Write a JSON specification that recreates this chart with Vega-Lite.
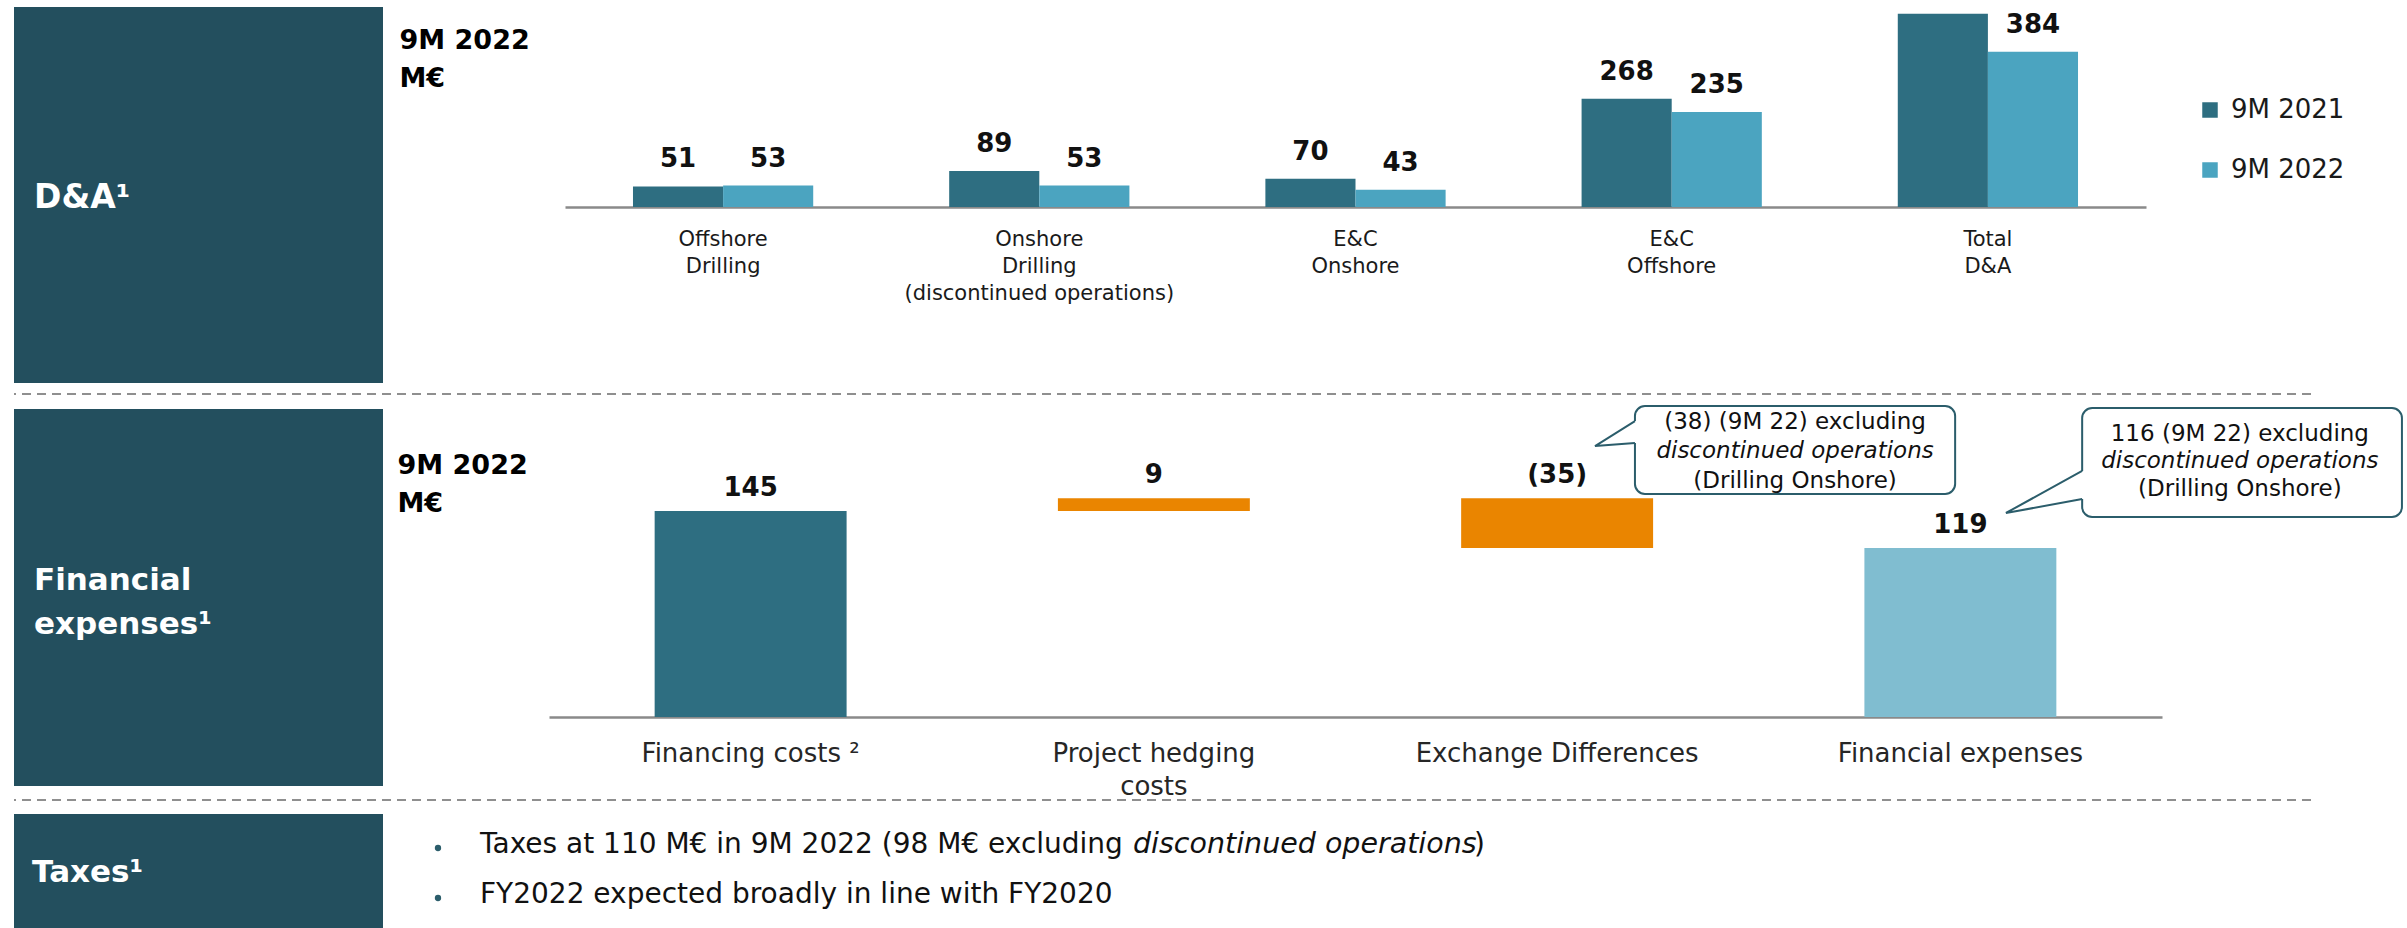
{
  "$schema": "https://vega.github.io/schema/vega-lite/v6.json",
  "padding": {"left": 13, "top": 7, "right": 0, "bottom": 0},
  "config": {"font": "DejaVu Sans", "view": {"stroke": null}},
  "spacing": -5,
  "resolve": {"scale": {"color": "independent"}, "legend": {"color": "independent"}},
  "vconcat": [
    {
      "spacing": 10,
      "resolve": {"scale": {"color": "independent"}, "legend": {"color": "independent"}},
      "vconcat": [
        {
          "spacing": 16,
          "hconcat": [
            {
              "width": 369, "height": 376,
              "view": {"fill": "#234f5e", "stroke": null},
              "data": {"values": [{"label": "D&A¹"}]},
              "mark": {"type": "text", "align": "left", "baseline": "middle", "dx": 20, "dy": 3, "color": "#ffffff", "fontSize": 33, "fontWeight": "bold"},
              "encoding": {
                "x": {"datum": 0, "type": "quantitative", "scale": {"domain": [0, 1]}, "axis": null},
                "text": {"field": "label"}
              }
            },
            {
              "width": 1581, "height": 200,
              "data": {"values": [
                {"category": "Offshore Drilling", "period": "9M 2021", "value": 51, "label": "51"},
                {"category": "Offshore Drilling", "period": "9M 2022", "value": 53, "label": "53"},
                {"category": "Onshore Drilling (discontinued operations)", "period": "9M 2021", "value": 89, "label": "89"},
                {"category": "Onshore Drilling (discontinued operations)", "period": "9M 2022", "value": 53, "label": "53"},
                {"category": "E&C Onshore", "period": "9M 2021", "value": 70, "label": "70"},
                {"category": "E&C Onshore", "period": "9M 2022", "value": 43, "label": "43"},
                {"category": "E&C Offshore", "period": "9M 2021", "value": 268, "label": "268"},
                {"category": "E&C Offshore", "period": "9M 2022", "value": 235, "label": "235"},
                {"category": "Total D&A", "period": "9M 2021", "value": 478, "label": ""},
                {"category": "Total D&A", "period": "9M 2022", "value": 384, "label": "384"}
              ]},
              "layer": [
                {
                  "mark": {"type": "bar"},
                  "encoding": {
                    "x": {"field": "category", "type": "nominal", "sort": null,
                      "scale": {"paddingInner": 0.43, "paddingOuter": 0.215},
                      "axis": {"title": null, "ticks": false, "labelAngle": 0, "domainColor": "#8a8a8a", "domainWidth": 2.5,
                        "labelFontSize": 21, "labelColor": "#1a1a1a", "labelPadding": 21, "labelLineHeight": 27, "labelLimit": 600,
                        "labelExpr": "datum.value == 'Onshore Drilling (discontinued operations)' ? ['Onshore', 'Drilling', '(discontinued operations)'] : split(datum.value, ' ')"}},
                    "xOffset": {"field": "period", "type": "nominal", "scale": {"paddingInner": 0, "paddingOuter": 0}},
                    "y": {"field": "value", "type": "quantitative", "scale": {"domain": [0, 495], "nice": false},
                      "axis": {"title": ["9M 2022", "M€"], "domain": false, "ticks": false, "labels": false, "grid": false,
                        "titleAngle": 0, "titleAlign": "left", "titleBaseline": "alphabetic", "titleX": -166, "titleY": 41,
                        "titleFontSize": 27, "titleFontWeight": "bold", "titleColor": "#000000", "titleLineHeight": 38}},
                    "color": {"field": "period", "type": "nominal",
                      "scale": {"domain": ["9M 2021", "9M 2022"], "range": ["#2e6e81", "#4ba4c0"]},
                      "legend": {"title": null, "orient": "none", "legendX": 2183, "legendY": 90, "symbolType": "square",
                        "symbolSize": 240, "symbolStrokeWidth": 0, "labelFontSize": 26, "labelColor": "#1a1a1a",
                        "labelOffset": 8, "rowPadding": 34}}
                  }
                },
                {
                  "transform": [{"filter": "datum.label != ''"}],
                  "mark": {"type": "text", "baseline": "alphabetic", "dy": -19, "fontSize": 26, "fontWeight": "bold", "color": "#111111"},
                  "encoding": {
                    "x": {"field": "category", "type": "nominal", "sort": null},
                    "xOffset": {"field": "period", "type": "nominal"},
                    "y": {"field": "value", "type": "quantitative"},
                    "text": {"field": "label"}
                  }
                }
              ]
            }
          ]
        },
        {
          "width": 2297, "height": 1,
          "data": {"values": [{"v": 0}]},
          "mark": {"type": "rule", "color": "#8f8f8f", "strokeWidth": 2, "strokeDash": [9, 6]},
          "encoding": {"y": {"field": "v", "type": "quantitative", "scale": {"domain": [0, 1]}, "axis": null}}
        },
        {
          "spacing": 14,
          "hconcat": [
            {
              "width": 369, "height": 377,
              "view": {"fill": "#234f5e", "stroke": null},
              "data": {"values": [{"label": "Financial\nexpenses¹"}]},
              "mark": {"type": "text", "align": "left", "baseline": "alphabetic", "dx": 20, "dy": -8, "color": "#ffffff", "fontSize": 31, "fontWeight": "bold", "lineBreak": "\n", "lineHeight": 44},
              "encoding": {
                "x": {"datum": 0, "type": "quantitative", "scale": {"domain": [0, 1]}, "axis": null},
                "text": {"field": "label"}
              }
            },
            {
              "width": 1613, "height": 308,
              "resolve": {"scale": {"x": "independent"}},
              "layer": [
                {
                  "data": {"values": [
                    {"category": "Financing costs ²", "low": 0, "high": 145, "kind": "start", "label": "145"},
                    {"category": "Project hedging costs", "low": 145, "high": 154, "kind": "delta", "label": "9"},
                    {"category": "Exchange Differences", "low": 119, "high": 154, "kind": "delta", "label": "(35)"},
                    {"category": "Financial expenses", "low": 0, "high": 119, "kind": "end", "label": "119"}
                  ]},
                  "layer": [
                    {
                      "mark": {"type": "bar"},
                      "encoding": {
                        "x": {"field": "category", "type": "nominal", "sort": null,
                          "scale": {"paddingInner": 0.524, "paddingOuter": 0.262},
                          "axis": {"title": null, "ticks": false, "labelAngle": 0, "domainColor": "#8a8a8a", "domainWidth": 2.5,
                            "labelFontSize": 26, "labelColor": "#262626", "labelPadding": 23, "labelLineHeight": 33, "labelLimit": 600,
                            "labelExpr": "datum.value == 'Project hedging costs' ? ['Project hedging', 'costs'] : datum.value"}},
                        "y": {"field": "low", "type": "quantitative", "scale": {"domain": [0, 216.8], "nice": false},
                          "axis": {"title": ["9M 2022", "M€"], "domain": false, "ticks": false, "labels": false, "grid": false,
                            "titleAngle": 0, "titleAlign": "left", "titleBaseline": "alphabetic", "titleX": -152, "titleY": 64,
                            "titleFontSize": 27, "titleFontWeight": "bold", "titleColor": "#000000", "titleLineHeight": 38}},
                        "y2": {"field": "high"},
                        "color": {"field": "kind", "type": "nominal",
                          "scale": {"domain": ["start", "delta", "end"], "range": ["#2e6e81", "#ea8500", "#80bdd0"]},
                          "legend": null}
                      }
                    },
                    {
                      "mark": {"type": "text", "baseline": "alphabetic", "dy": -15, "fontSize": 26, "fontWeight": "bold", "color": "#111111"},
                      "encoding": {
                        "x": {"field": "category", "type": "nominal", "sort": null},
                        "y": {"field": "high", "type": "quantitative"},
                        "text": {"field": "label"}
                      }
                    }
                  ]
                },
                {
                  "data": {"values": [
                    {"id": 1, "x1": 2.693, "x2": 3.487, "y1": 157.0, "y2": 218.9},
                    {"id": 2, "x1": 3.802, "x2": 4.595, "y1": 140.8, "y2": 217.5}
                  ]},
                  "mark": {"type": "rect", "fill": "#ffffff", "stroke": "#2b5d6b", "strokeWidth": 2, "cornerRadius": 10},
                  "encoding": {
                    "x": {"field": "x1", "type": "quantitative", "scale": {"domain": [0, 4], "nice": false, "zero": false}, "axis": null},
                    "x2": {"field": "x2"},
                    "y": {"field": "y1", "type": "quantitative"},
                    "y2": {"field": "y2"}
                  }
                },
                {
                  "data": {"values": [
                    {"id": 1, "x": 2.594, "lo": 190.7, "hi": 190.7},
                    {"id": 1, "x": 2.693, "lo": 192.9, "hi": 208.3},
                    {"id": 1, "x": 2.703, "lo": 192.9, "hi": 208.3},
                    {"id": 2, "x": 3.613, "lo": 143.6, "hi": 143.6},
                    {"id": 2, "x": 3.802, "lo": 153.4, "hi": 173.2},
                    {"id": 2, "x": 3.812, "lo": 153.4, "hi": 173.2}
                  ]},
                  "mark": {"type": "area", "fill": "#ffffff", "opacity": 1, "interpolate": "linear"},
                  "encoding": {
                    "x": {"field": "x", "type": "quantitative", "scale": {"domain": [0, 4], "nice": false, "zero": false}, "axis": null},
                    "y": {"field": "lo", "type": "quantitative"},
                    "y2": {"field": "hi"},
                    "detail": {"field": "id", "type": "nominal"}
                  }
                },
                {
                  "data": {"values": [
                    {"id": 1, "ord": 1, "x": 2.693, "y": 208.3},
                    {"id": 1, "ord": 2, "x": 2.594, "y": 190.7},
                    {"id": 1, "ord": 3, "x": 2.693, "y": 192.9},
                    {"id": 2, "ord": 1, "x": 3.802, "y": 173.2},
                    {"id": 2, "ord": 2, "x": 3.613, "y": 143.6},
                    {"id": 2, "ord": 3, "x": 3.802, "y": 153.4}
                  ]},
                  "mark": {"type": "line", "color": "#2b5d6b", "strokeWidth": 2},
                  "encoding": {
                    "x": {"field": "x", "type": "quantitative", "scale": {"domain": [0, 4], "nice": false, "zero": false}, "axis": null},
                    "y": {"field": "y", "type": "quantitative"},
                    "detail": {"field": "id", "type": "nominal"},
                    "order": {"field": "ord", "type": "quantitative"}
                  }
                },
                {
                  "data": {"values": [
                    {"id": 1, "x": 3.09, "y": 202.7, "text": "(38) (9M 22) excluding", "italic": false},
                    {"id": 1, "x": 3.09, "y": 182.3, "text": "discontinued operations", "italic": true},
                    {"id": 1, "x": 3.09, "y": 161.2, "text": "(Drilling Onshore)", "italic": false},
                    {"id": 2, "x": 4.193, "y": 194.3, "text": "116 (9M 22) excluding", "italic": false},
                    {"id": 2, "x": 4.193, "y": 175.3, "text": "discontinued operations", "italic": true},
                    {"id": 2, "x": 4.193, "y": 155.6, "text": "(Drilling Onshore)", "italic": false}
                  ]},
                  "layer": [
                    {
                      "transform": [{"filter": "!datum.italic"}],
                      "mark": {"type": "text", "align": "center", "baseline": "alphabetic", "fontSize": 23, "color": "#111111"},
                      "encoding": {
                        "x": {"field": "x", "type": "quantitative", "scale": {"domain": [0, 4], "nice": false, "zero": false}, "axis": null},
                        "y": {"field": "y", "type": "quantitative"},
                        "text": {"field": "text"}
                      }
                    },
                    {
                      "transform": [{"filter": "datum.italic"}],
                      "mark": {"type": "text", "align": "center", "baseline": "alphabetic", "fontSize": 23, "fontStyle": "italic", "color": "#111111"},
                      "encoding": {
                        "x": {"field": "x", "type": "quantitative", "scale": {"domain": [0, 4], "nice": false, "zero": false}, "axis": null},
                        "y": {"field": "y", "type": "quantitative"},
                        "text": {"field": "text"}
                      }
                    }
                  ]
                }
              ]
            }
          ]
        }
      ]
    },
    {
      "spacing": 13,
      "vconcat": [
        {
          "width": 2297, "height": 1,
          "data": {"values": [{"v": 0}]},
          "mark": {"type": "rule", "color": "#8f8f8f", "strokeWidth": 2, "strokeDash": [9, 6]},
          "encoding": {"y": {"field": "v", "type": "quantitative", "scale": {"domain": [0, 1]}, "axis": null}}
        },
        {
          "spacing": 51,
          "hconcat": [
            {
              "width": 369, "height": 117,
              "view": {"fill": "#234f5e", "stroke": null},
              "data": {"values": [{"label": "Taxes¹"}]},
              "mark": {"type": "text", "align": "left", "baseline": "middle", "dx": 18, "color": "#ffffff", "fontSize": 31, "fontWeight": "bold"},
              "encoding": {
                "x": {"datum": 0, "type": "quantitative", "scale": {"domain": [0, 1]}, "axis": null},
                "text": {"field": "label"}
              }
            },
            {
              "width": 1100, "height": 120,
              "data": {"values": [
                {"line": 1, "part": "main", "text": "Taxes at 110 M€ in 9M 2022 (98 M€ excluding"},
                {"line": 1, "part": "italic", "text": "discontinued operations"},
                {"line": 1, "part": "close", "text": ")"},
                {"line": 2, "part": "main", "text": "FY2022 expected broadly in line with FY2020"}
              ]},
              "encoding": {
                "x": {"datum": 0, "type": "quantitative", "scale": {"domain": [0, 1]}, "axis": null},
                "y": {"field": "line", "type": "ordinal", "scale": {"type": "point", "padding": 0.7}, "axis": null}
              },
              "layer": [
                {
                  "transform": [{"filter": "datum.part == 'main'"}],
                  "mark": {"type": "circle", "size": 40, "color": "#2b5d6b", "opacity": 1, "yOffset": -1}
                },
                {
                  "transform": [{"filter": "datum.part == 'main'"}],
                  "mark": {"type": "text", "align": "left", "baseline": "alphabetic", "dx": 42, "yOffset": 4, "fontSize": 28, "color": "#111111"},
                  "encoding": {"text": {"field": "text"}}
                },
                {
                  "transform": [{"filter": "datum.part == 'italic'"}],
                  "mark": {"type": "text", "align": "left", "baseline": "alphabetic", "dx": 695, "yOffset": 4, "fontSize": 28.5, "fontStyle": "italic", "color": "#111111"},
                  "encoding": {"text": {"field": "text"}}
                },
                {
                  "transform": [{"filter": "datum.part == 'close'"}],
                  "mark": {"type": "text", "align": "left", "baseline": "alphabetic", "dx": 1036, "yOffset": 4, "fontSize": 28, "color": "#111111"},
                  "encoding": {"text": {"field": "text"}}
                }
              ]
            }
          ]
        }
      ]
    }
  ]
}
